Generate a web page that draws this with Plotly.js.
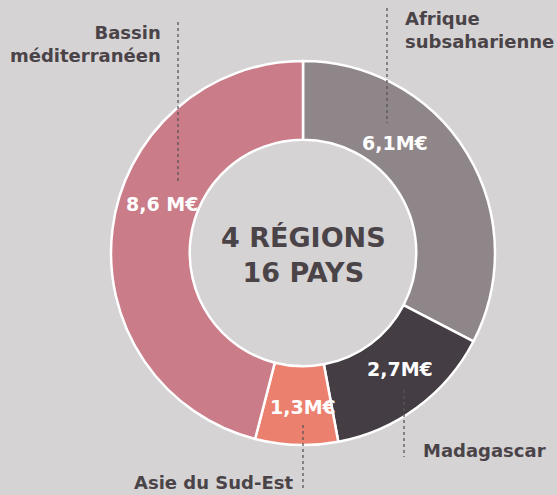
<!DOCTYPE html>
<html>
<head>
<meta charset="utf-8">
<script src="https://cdn.plot.ly/plotly-3.0.1.min.js"></script>
<style>html,body{margin:0;padding:0;background:#d6d3d4;}#chart{width:557px;height:495px;}</style>
</head>
<body>
<div id="chart"></div>
<script>
const regions = ["Afrique subsaharienne", "Madagascar", "Asie du Sud-Est", "Bassin méditerranéen"];
const values = [6.1, 2.7, 1.3, 8.6];
const valueLabels = ["6,1M€", "2,7M€", "1,3M€", "8,6 M€"];
const regionLabels = ["Afrique<br>subsaharienne", "Madagascar", "Asie du Sud-Est", "Bassin<br>méditerranéen"];
const colors = ["#8f8689", "#443d43", "#ec806e", "#ca7c88"];
const centerText = "4 RÉGIONS<br>16 PAYS";

const W = 557, H = 495;
const px = x => x / W;
const py = y => 1 - y / H;
const FONT = "DejaVu Sans, sans-serif";
const DARK = "#4a4448";

const trace = {
  type: "pie",
  labels: regions,
  values: values,
  hole: 0.59,
  sort: false,
  direction: "clockwise",
  rotation: 0,
  textinfo: "none",
  hoverinfo: "label+value",
  marker: {colors: colors, line: {color: "#ffffff", width: 2.5}},
  domain: {x: [px(111), px(495)], y: [py(445), py(61)]},
  showlegend: false
};

// value label positions (pixels)
const valPos = [[395, 143], [400, 369], [303, 407], [162, 204]];
// region label positions (pixels) and anchors
const regPos = [[403, 30, "left"], [421, 450, "left"], [132, 482, "left"], [163, 44, "right"]];
// leader lines (pixels)
const leaders = [[387, 8, 387, 123], [404, 390, 404, 457], [303, 425, 303, 488], [178, 22, 178, 182]];

const annotations = [];
valueLabels.forEach((t, i) => {
  annotations.push({text: "<b>" + t + "</b>", x: px(valPos[i][0]), y: py(valPos[i][1]), xref: "paper", yref: "paper",
    showarrow: false, xanchor: "center", yanchor: "middle", font: {family: FONT, size: 19, color: "#ffffff"}});
});
regionLabels.forEach((t, i) => {
  annotations.push({text: "<b>" + t + "</b>", x: px(regPos[i][0]), y: py(regPos[i][1]), xref: "paper", yref: "paper",
    showarrow: false, xanchor: regPos[i][2], yanchor: "middle", align: regPos[i][2],
    font: {family: FONT, size: 18, color: DARK}});
});
annotations.push({text: "<b>" + centerText + "</b>", x: px(303), y: py(255), xref: "paper", yref: "paper",
  showarrow: false, xanchor: "center", yanchor: "middle", align: "center",
  font: {family: FONT, size: 27, color: DARK}});

const shapes = leaders.map(l => ({type: "line", xref: "paper", yref: "paper",
  x0: px(l[0]), y0: py(l[1]), x1: px(l[2]), y1: py(l[3]),
  line: {color: "#5a5358", width: 1.3, dash: "dot"}}));

const layout = {
  width: W, height: H,
  margin: {l: 0, r: 0, t: 0, b: 0},
  paper_bgcolor: "#d6d3d4",
  plot_bgcolor: "#d6d3d4",
  annotations: annotations,
  shapes: shapes
};

Plotly.newPlot("chart", [trace], layout, {displayModeBar: false, staticPlot: true});
</script>
</body>
</html>
